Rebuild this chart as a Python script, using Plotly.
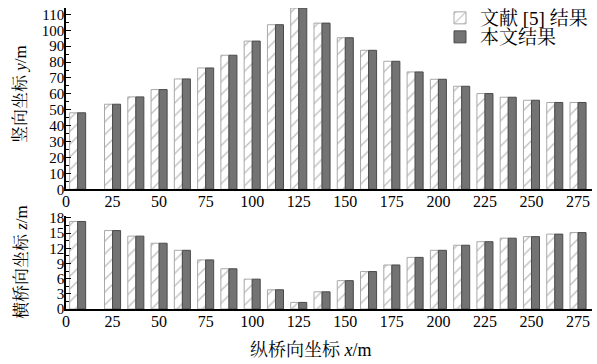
import plotly.graph_objects as go

# x positions of bar groups (m)
x_pos = [6.25, 25, 37.5, 50, 62.5, 75, 87.5, 100, 112.5, 125, 137.5, 150,
         162.5, 175, 187.5, 200, 212.5, 225, 237.5, 250, 262.5, 275]

# vertical coordinate y (m)
y_ref = [48.1, 53.5, 58.1, 62.7, 69.4, 76.3, 84.3, 93.2, 103.5, 114.0, 104.5, 95.3,
         87.4, 80.5, 73.8, 69.2, 64.8, 60.2, 57.9, 56.0, 54.6, 54.6]
y_this = [48.1, 53.5, 58.1, 62.7, 69.4, 76.3, 84.3, 93.2, 103.5, 114.0, 104.5, 95.3,
          87.4, 80.5, 73.8, 69.2, 64.8, 60.2, 57.9, 56.0, 54.6, 54.6]

# transverse coordinate z (m)
z_ref = [17.3, 15.5, 14.4, 13.0, 11.6, 9.7, 7.95, 5.9, 3.8, 1.3, 3.4, 5.6,
         7.4, 8.7, 10.2, 11.6, 12.6, 13.3, 14.0, 14.3, 14.8, 15.1]
z_this = [17.3, 15.5, 14.4, 13.0, 11.6, 9.7, 7.95, 5.9, 3.8, 1.3, 3.4, 5.6,
          7.4, 8.7, 10.2, 11.6, 12.6, 13.3, 14.0, 14.3, 14.8, 15.1]

x_ticks = [0, 25, 50, 75, 100, 125, 150, 175, 200, 225, 250, 275]
y_ticks = list(range(0, 111, 10))
z_ticks = list(range(0, 19, 3))

name_ref = "文献 [5] 结果"
name_this = "本文结果"

FONT = "Times New Roman, Liberation Serif, Noto Serif CJK SC, Noto Sans CJK SC, serif"

hatch = dict(color="white", line=dict(color="#a8a8a8", width=1),
             pattern=dict(shape="/", fgcolor="#777777", bgcolor="white", size=9, solidity=0.14))
dark = dict(color="#737373", line=dict(color="#4a4a4a", width=1))

fig = go.Figure()
fig.add_trace(go.Bar(x=x_pos, y=y_ref, name=name_ref, marker=hatch, xaxis="x", yaxis="y",
                     offsetgroup="a", legend="legend"))
fig.add_trace(go.Bar(x=x_pos, y=y_this, name=name_this, marker=dark, xaxis="x", yaxis="y",
                     offsetgroup="b", legend="legend2"))
fig.add_trace(go.Bar(x=x_pos, y=z_ref, name=name_ref, marker=hatch, xaxis="x2", yaxis="y2",
                     offsetgroup="a", showlegend=False))
fig.add_trace(go.Bar(x=x_pos, y=z_this, name=name_this, marker=dark, xaxis="x2", yaxis="y2",
                     offsetgroup="b", showlegend=False))

L, R, T, B = 66, 5, 8, 55
W, H = 597, 364
pw = W - L - R
ph = H - T - B

def px_y(p):
    return (H - B - p) / ph

def px_x(p):
    return (p - L) / pw

xax = dict(range=[0, 282.5], tickvals=x_ticks, ticks="", showline=True, linecolor="black",
           linewidth=1.5, showgrid=False, zeroline=False, ticklabelstandoff=-3,
           tickfont=dict(family=FONT, size=16, color="black"))
yax_common = dict(showline=True, linecolor="black", linewidth=1.5, showgrid=False, zeroline=False,
                  ticks="inside", ticklen=5, tickcolor="black", tickwidth=1,
                  ticklabelstandoff=-3,
                  tickfont=dict(family=FONT, size=15, color="black"))

leg_common = dict(bgcolor="rgba(0,0,0,0)", font=dict(family=FONT, size=19, color="black"),
                  xanchor="left", yanchor="middle", itemwidth=30)

fig.update_layout(
    width=W, height=H,
    margin=dict(l=L, r=R, t=T, b=B, autoexpand=False),
    paper_bgcolor="white", plot_bgcolor="white",
    barmode="group", bargap=0.31, bargroupgap=0.0,
    font=dict(family=FONT, color="black"),
    xaxis=dict(**xax, domain=[0, 1], anchor="y"),
    xaxis2=dict(**xax, domain=[0, 1], anchor="y2"),
    yaxis=dict(**yax_common, range=[0, 114], tickvals=y_ticks, domain=[px_y(189.3), 1], anchor="x",
               minor=dict(ticks="inside", ticklen=3, dtick=5, tickcolor="black")),
    yaxis2=dict(**yax_common, range=[0, 18.3], tickvals=z_ticks, domain=[0, px_y(216.4)], anchor="x2",
                minor=dict(ticks="inside", ticklen=3, dtick=1.5, tickcolor="black")),
    legend=dict(**leg_common, x=px_x(440), y=px_y(18)),
    legend2=dict(**leg_common, x=px_x(440), y=px_y(37)),
    annotations=[
        dict(text="竖向坐标 <i>y</i>/m", textangle=-90, xref="paper", yref="paper",
             x=px_x(20), y=px_y(94), xanchor="center", yanchor="middle",
             showarrow=False, font=dict(family=FONT, size=17)),
        dict(text="横桥向坐标 <i>z</i>/m", textangle=-90, xref="paper", yref="paper",
             x=px_x(21), y=px_y(262), xanchor="center", yanchor="middle",
             showarrow=False, font=dict(family=FONT, size=17)),
        dict(text="纵桥向坐标 <i>x</i>/m", xref="paper", yref="paper",
             x=px_x(311), y=px_y(350), xanchor="center", yanchor="middle",
             showarrow=False, font=dict(family=FONT, size=18)),
    ],
)

fig.write_html("out.html", config={"displayModeBar": False},
               post_script="document.body.style.margin='0';document.body.style.overflow='hidden';")
